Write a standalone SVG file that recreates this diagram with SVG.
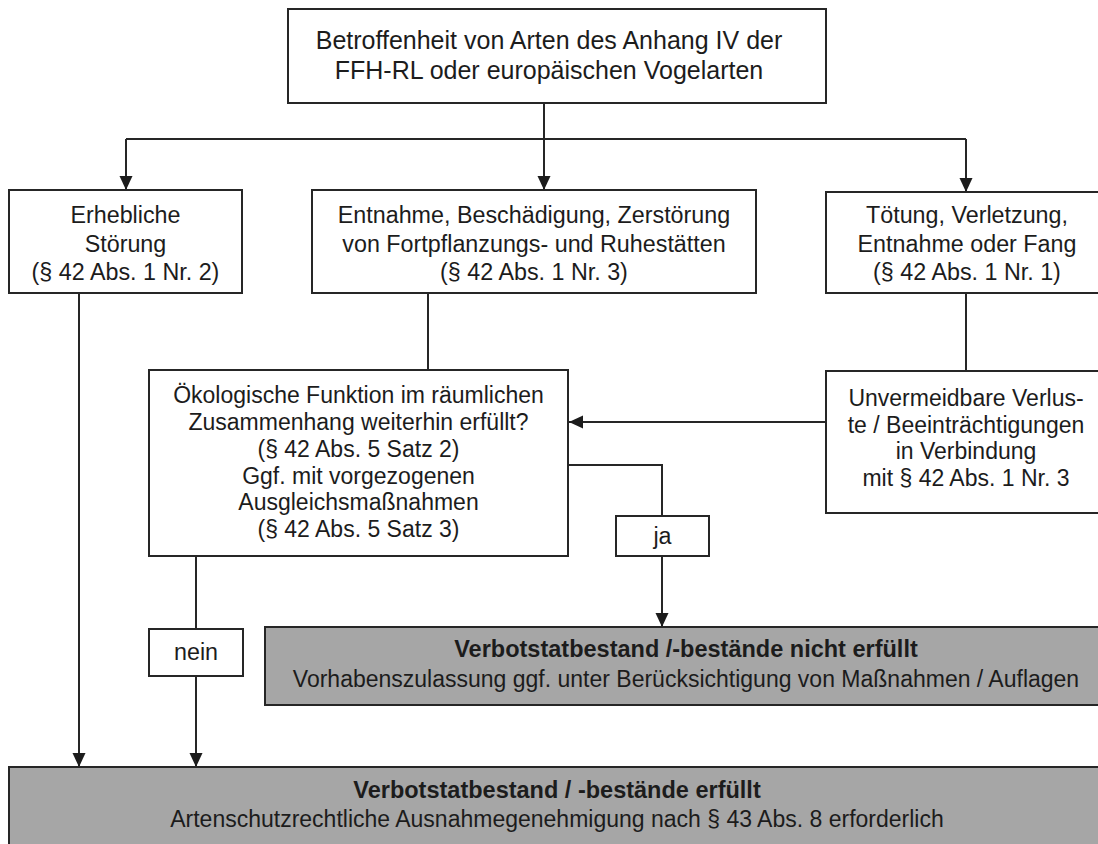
<svg xmlns="http://www.w3.org/2000/svg" width="1098" height="844" viewBox="0 0 1098 844">
<style>
.box{fill:#ffffff;stroke:#262626;stroke-width:2}
.gray{fill:#a6a6a6;stroke:#262626;stroke-width:2}
.t{font-family:"Liberation Sans",Arial,sans-serif;font-size:23.3px;fill:#1c1c1c;text-anchor:middle}
.tt{font-size:25px}
.to{font-size:23px}
.b{font-weight:bold;font-size:23.5px}
.g{font-size:23px}
.line{fill:none;stroke:#262626;stroke-width:2}
</style>
<defs>
<marker id="ah" markerUnits="userSpaceOnUse" markerWidth="14" markerHeight="14" refX="14" refY="7" orient="auto">
<path d="M0,0.5 L14,7 L0,13.5 z" fill="#1c1c1c"/>
</marker>
</defs>
<rect x="0" y="0" width="1098" height="844" fill="#ffffff"/>

<g id="connectors">
<path class="line" d="M544,103 L544,190" marker-end="url(#ah)"/>
<path class="line" d="M126,139 L966,139"/>
<path class="line" d="M126,139 L126,190" marker-end="url(#ah)"/>
<path class="line" d="M966,139 L966,192" marker-end="url(#ah)"/>
<path class="line" d="M428,293 L428,370"/>
<path class="line" d="M966,293 L966,371"/>
<path class="line" d="M826,422 L569,422" marker-end="url(#ah)"/>
<path class="line" d="M568,465 L662,465 L662,516"/>
<path class="line" d="M662,556 L662,627" marker-end="url(#ah)"/>
<path class="line" d="M196,556 L196,629"/>
<path class="line" d="M196,676 L196,767" marker-end="url(#ah)"/>
<path class="line" d="M79,293 L79,767" marker-end="url(#ah)"/>
</g>

<g id="n-top">
<rect class="box" x="288" y="9" width="538" height="94"/>
<text class="t tt" x="549" y="49">Betroffenheit von Arten des Anhang IV der</text>
<text class="t tt" x="549" y="79">FFH-RL oder europäischen Vogelarten</text>
</g>

<g id="n-stoerung">
<rect class="box" x="9" y="190" width="233" height="103"/>
<text class="t" x="125.5" y="223">Erhebliche</text>
<text class="t" x="125.5" y="251.5">Störung</text>
<text class="t" x="125.5" y="280">(§ 42 Abs. 1 Nr. 2)</text>
</g>

<g id="n-entnahme">
<rect class="box" x="312" y="190" width="444" height="103"/>
<text class="t" x="534" y="223">Entnahme, Beschädigung, Zerstörung</text>
<text class="t" x="534" y="251.5">von Fortpflanzungs- und Ruhestätten</text>
<text class="t" x="534" y="280">(§ 42 Abs. 1 Nr. 3)</text>
</g>

<g id="n-toetung">
<rect class="box" x="826" y="192" width="282" height="101"/>
<text class="t" x="967" y="223">Tötung, Verletzung,</text>
<text class="t" x="967" y="251.5">Entnahme oder Fang</text>
<text class="t" x="967" y="280">(§ 42 Abs. 1 Nr. 1)</text>
</g>

<g id="n-oekologisch">
<rect class="box" x="149" y="370" width="419" height="186"/>
<text class="t to" x="358.5" y="403">Ökologische Funktion im räumlichen</text>
<text class="t to" x="358.5" y="430">Zusammenhang weiterhin erfüllt?</text>
<text class="t to" x="358.5" y="457">(§ 42 Abs. 5 Satz 2)</text>
<text class="t to" x="358.5" y="484">Ggf. mit vorgezogenen</text>
<text class="t to" x="358.5" y="510">Ausgleichsmaßnahmen</text>
<text class="t to" x="358.5" y="536.5">(§ 42 Abs. 5 Satz 3)</text>
</g>

<g id="n-unvermeidbar">
<rect class="box" x="826" y="371" width="282" height="142"/>
<text class="t to" x="966" y="406">Unvermeidbare Verlus-</text>
<text class="t to" x="966" y="432.5">te / Beeinträchtigungen</text>
<text class="t to" x="966" y="459">in Verbindung</text>
<text class="t to" x="966" y="485.5">mit § 42 Abs. 1 Nr. 3</text>
</g>

<g id="n-ja">
<rect class="box" x="616" y="516" width="93" height="40"/>
<text class="t" x="662.5" y="544">ja</text>
</g>

<g id="n-nein">
<rect class="box" x="149" y="629" width="94" height="47"/>
<text class="t" x="196" y="660">nein</text>
</g>

<g id="n-nicht-erfuellt">
<rect class="gray" x="265" y="627" width="843" height="78"/>
<text class="t b" x="686" y="657">Verbotstatbestand /-bestände nicht erfüllt</text>
<text class="t g" x="686" y="687">Vorhabenszulassung ggf. unter Berücksichtigung von Maßnahmen / Auflagen</text>
</g>

<g id="n-erfuellt">
<rect class="gray" x="9" y="767" width="1099" height="90"/>
<text class="t b" x="557" y="798">Verbotstatbestand / -bestände erfüllt</text>
<text class="t g" x="557" y="827">Artenschutzrechtliche Ausnahmegenehmigung nach § 43 Abs. 8 erforderlich</text>
</g>
</svg>
